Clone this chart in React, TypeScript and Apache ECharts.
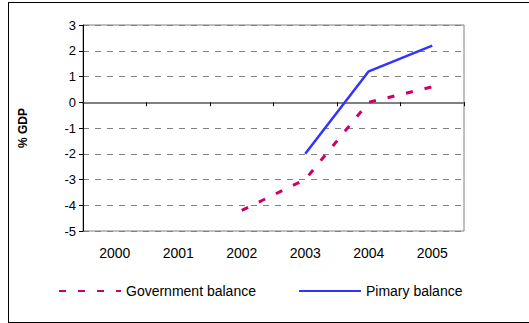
import React, { useEffect, useRef } from "react";
import * as echarts from "echarts";

const years = ["2000", "2001", "2002", "2003", "2004", "2005"];
const governmentBalance = [null, null, -4.2, -3.0, 0.0, 0.6];
const primaryBalance = [null, null, null, -2.0, 1.2, 2.2];
const yMin = -5;
const yMax = 3;

export default function App() {
  const ref = useRef<HTMLDivElement>(null);
  useEffect(() => {
    if (!ref.current) return;
    const chart = echarts.init(ref.current, null, { renderer: "svg" });
    const font = "'Liberation Sans', Arial, sans-serif";
    chart.setOption({
      animation: false,
      textStyle: { fontFamily: font },
      grid: {
        left: 73,
        top: 22,
        width: 382,
        height: 206,
        show: true,
        borderColor: "#808080",
        borderWidth: 1,
        backgroundColor: "#ffffff",
      },
      legend: {
        left: 44,
        top: 276,
        itemWidth: 62,
        itemHeight: 12,
        itemGap: 42,
        itemStyle: { opacity: 0 },
        textStyle: { fontSize: 14, color: "#000", fontFamily: font },
        data: ["Government balance", "Pimary balance"],
      },
      xAxis: [
        {
          type: "category",
          data: years,
          boundaryGap: true,
          axisLine: { onZero: true, lineStyle: { color: "#808080", width: 2 } },
          axisTick: { show: true, inside: false, length: 4, lineStyle: { color: "#000" } },
          axisLabel: { show: false },
          splitLine: { show: false },
        },
        {
          type: "category",
          data: years,
          position: "bottom",
          axisLine: { show: false },
          axisTick: { show: false },
          axisLabel: { color: "#000", fontSize: 14, margin: 15, fontFamily: font },
          splitLine: { show: false },
        },
      ],
      yAxis: {
        type: "value",
        min: yMin,
        max: yMax,
        interval: 1,
        name: "% GDP",
        nameLocation: "middle",
        nameGap: 54,
        nameTextStyle: { fontWeight: "bold", fontSize: 12, color: "#000", fontFamily: font },
        axisLine: { show: true, onZero: false, lineStyle: { color: "#000" } },
        axisTick: { show: true, length: 4, lineStyle: { color: "#000" } },
        axisLabel: { color: "#000", fontSize: 13, margin: 7, fontFamily: font },
        splitLine: { show: true, lineStyle: { color: "#808080", type: [6, 6], width: 1 } },
      },
      series: [
        {
          name: "Government balance",
          type: "line",
          data: governmentBalance,
          symbol: "none",
          lineStyle: { color: "#cc0066", width: 3, type: [7, 12] },
          itemStyle: { color: "#cc0066" },
        },
        {
          name: "Pimary balance",
          type: "line",
          data: primaryBalance,
          symbol: "none",
          lineStyle: { color: "#3333ff", width: 2.5 },
          itemStyle: { color: "#3333ff" },
        },
      ],
    });
    return () => chart.dispose();
  }, []);
  return (
    <div
      style={{
        position: "absolute",
        left: 8,
        top: 2,
        width: 530,
        height: 321,
        border: "1px solid #000",
        boxSizing: "border-box",
        background: "#fff",
      }}
    >
      <div ref={ref} style={{ width: 529, height: 319 }} />
    </div>
  );
}
